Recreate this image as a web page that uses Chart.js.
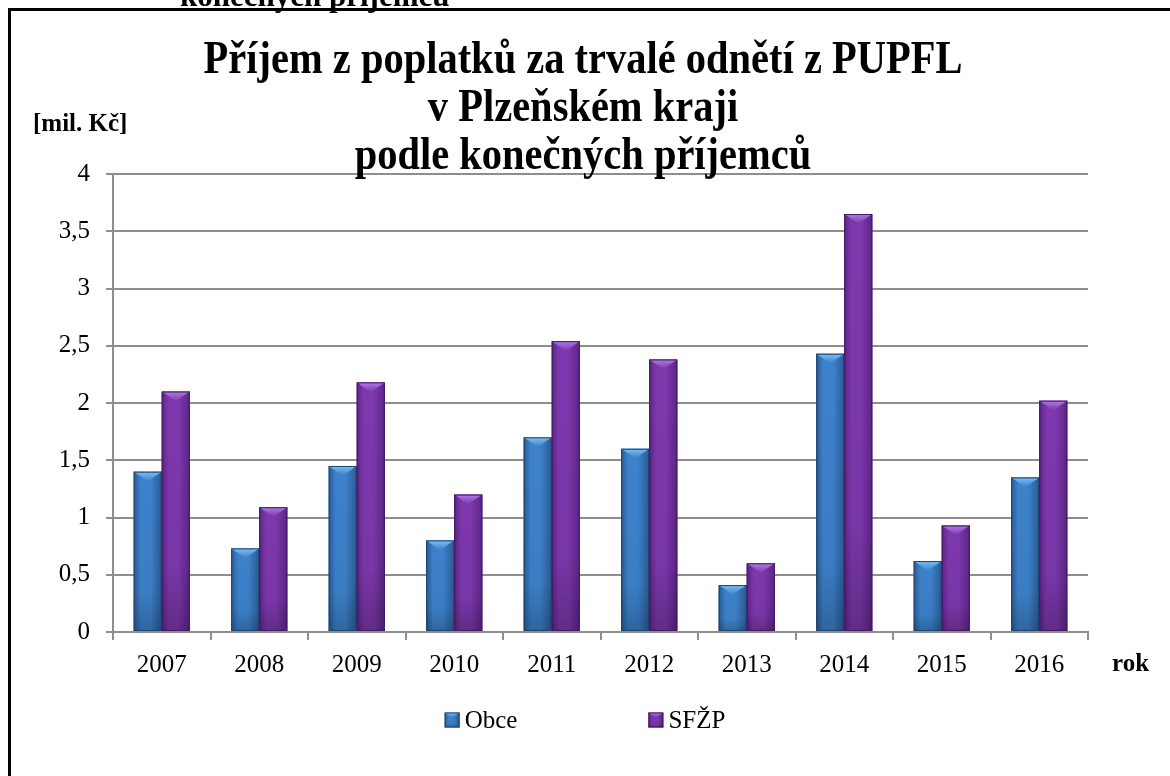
<!DOCTYPE html>
<html>
<head>
<meta charset="utf-8">
<script src="https://cdn.jsdelivr.net/npm/chart.js@4.4.0/dist/chart.umd.min.js"></script>
<style>
  html, body { margin: 0; padding: 0; background: #fff; }
  #wrap { width: 1170px; height: 776px; }
</style>
</head>
<body>
<div id="wrap"><canvas id="myChart"></canvas></div>
<script>
// data
const years = ['2007', '2008', '2009', '2010', '2011', '2012', '2013', '2014', '2015', '2016'];
const obce = [1.40, 0.73, 1.45, 0.80, 1.70, 1.60, 0.41, 2.43, 0.62, 1.35];
const sfzp = [2.10, 1.09, 2.18, 1.20, 2.54, 2.38, 0.60, 3.65, 0.93, 2.02];
const yTicks = ['0', '0,5', '1', '1,5', '2', '2,5', '3', '3,5', '4'];
const seriesNames = ['Obce', 'SFŽP'];
const titleLines = ['Příjem z poplatků za trvalé odnětí z PUPFL', 'v Plzeňském kraji', 'podle konečných příjemců'];
const yUnit = '[mil. Kč]';
const xUnit = 'rok';
const cutText = 'konečných příjemců';

const serif = '"Liberation Serif", "Times New Roman", serif';
const gridGray = '#8e8e8e';

// barvy: okraj, stred, svetly vrch, obrys
const palette = {
  Obce: { edge: '#2a5b94', mid: '#3d82cc', light: '#7cc0f4', line: '#1f426c', base: '#3674bb' },
  'SFŽP': { edge: '#5c2586', mid: '#7d38ad', light: '#b17de2', line: '#421760', base: '#7030a0' }
};

function shadeBar(ctx, left, top, w, h, c) {
  if (h <= 0) return;
  let g = ctx.createLinearGradient(left, 0, left + w, 0);
  g.addColorStop(0, c.edge);
  g.addColorStop(0.25, c.mid);
  g.addColorStop(0.6, c.mid);
  g.addColorStop(1, c.edge);
  ctx.fillStyle = g;
  ctx.fillRect(left, top, w, h);
  // tmavnuti dole
  let v = ctx.createLinearGradient(0, top, 0, top + h);
  v.addColorStop(0, 'rgba(0,0,0,0)');
  v.addColorStop(0.75, 'rgba(0,0,0,0.04)');
  v.addColorStop(1, 'rgba(0,0,0,0.22)');
  ctx.fillStyle = v;
  ctx.fillRect(left, top, w, h);
  // zkoseny vrch
  const bh = Math.min(w * 0.34, h);
  ctx.beginPath();
  ctx.moveTo(left, top);
  ctx.lineTo(left + w, top);
  ctx.lineTo(left + w / 2, top + bh);
  ctx.closePath();
  let t = ctx.createLinearGradient(0, top, 0, top + bh);
  t.addColorStop(0, c.light);
  t.addColorStop(1, c.mid);
  ctx.fillStyle = t;
  ctx.fill();
  ctx.strokeStyle = c.line;
  ctx.lineWidth = 1;
  ctx.strokeRect(left + 0.5, top + 0.5, w - 1, h - 1);
}

const dekor = {
  id: 'dekor',
  beforeDraw(chart) {
    const ctx = chart.ctx;
    ctx.save();
    ctx.fillStyle = '#fff';
    ctx.fillRect(0, 0, chart.width, chart.height);
    // odriznuty text nad grafem
    ctx.fillStyle = '#000';
    ctx.font = 'bold 31px ' + serif;
    ctx.textBaseline = 'alphabetic';
    ctx.textAlign = 'left';
    ctx.fillText(cutText, 180, 6);
    // ramecek
    ctx.fillStyle = '#000';
    ctx.fillRect(8, 8, chart.width - 8, 3);
    ctx.fillRect(8, 8, 3, chart.height - 8);
    ctx.restore();
  },
  afterDatasetsDraw(chart) {
    const ctx = chart.ctx;
    ctx.save();
    chart.data.datasets.forEach((ds, i) => {
      const meta = chart.getDatasetMeta(i);
      const c = palette[ds.label];
      meta.data.forEach(bar => {
        const p = bar.getProps(['x', 'y', 'base', 'width'], true);
        shadeBar(ctx, p.x - p.width / 2, p.y, p.width, p.base - p.y, c);
      });
    });
    ctx.restore();
  },
  afterDraw(chart) {
    const ctx = chart.ctx;
    const area = chart.chartArea;
    ctx.save();
    ctx.fillStyle = '#000';
    // titulek (zuzene pismo)
    ctx.font = 'bold 46px ' + serif;
    ctx.textAlign = 'center';
    ctx.textBaseline = 'alphabetic';
    titleLines.forEach((line, i) => {
      ctx.save();
      ctx.translate(583, 73 + i * 48);
      ctx.scale(0.88, 1);
      ctx.fillText(line, 0, 0);
      ctx.restore();
    });
    // popisky os
    ctx.font = 'bold 25px ' + serif;
    ctx.textAlign = 'left';
    ctx.textBaseline = 'middle';
    ctx.fillText(yUnit, 33, 125);
    ctx.fillText(xUnit, area.right + 24, 665);
    // legenda
    ctx.font = '25px ' + serif;
    const box = 15, gapText = 5, gapItem = 131;
    const widths = seriesNames.map(n => box + gapText + ctx.measureText(n).width);
    const total = widths[0] + gapItem + widths[1];
    let x = chart.width / 2 - total / 2;
    const ly = 720;
    seriesNames.forEach((n, i) => {
      shadeBar(ctx, x, ly - box / 2, box, box, palette[n]);
      ctx.fillStyle = '#000';
      ctx.fillText(n, x + box + gapText, ly + 1);
      x += widths[i] + gapItem;
    });
    ctx.restore();
  }
};

const ctx = document.getElementById('myChart').getContext('2d');
const myChart = new Chart(ctx, {
  type: 'bar',
  data: {
    labels: years,
    datasets: [
      { label: seriesNames[0], data: obce, backgroundColor: palette.Obce.base, borderWidth: 0 },
      { label: seriesNames[1], data: sfzp, backgroundColor: palette['SFŽP'].base, borderWidth: 0 }
    ]
  },
  options: {
    responsive: true,
    maintainAspectRatio: false,
    animation: false,
    categoryPercentage: 0.575,
    barPercentage: 1.0,
    layout: { padding: { top: 174, right: 82, bottom: 104, left: 0 } },
    scales: {
      x: {
        grid: { drawOnChartArea: false, drawTicks: true, tickLength: 8, color: gridGray, lineWidth: 2, offset: true },
        border: { color: gridGray, width: 2 },
        ticks: { color: '#000', font: { family: serif, size: 25 }, padding: 10, maxRotation: 0 },
        afterFit: s => { s.height = 40; }
      },
      y: {
        min: 0,
        max: 4,
        grid: { color: gridGray, lineWidth: 2, tickLength: 7 },
        border: { color: gridGray, width: 2 },
        ticks: {
          stepSize: 0.5,
          color: '#000',
          font: { family: serif, size: 25 },
          padding: 16,
          callback: v => yTicks[Math.round(v / 0.5)]
        },
        afterFit: s => { s.width = 113; }
      }
    },
    plugins: {
      legend: { display: false },
      title: { display: false },
      tooltip: { enabled: false }
    }
  },
  plugins: [dekor]
});
</script>
</body>
</html>
